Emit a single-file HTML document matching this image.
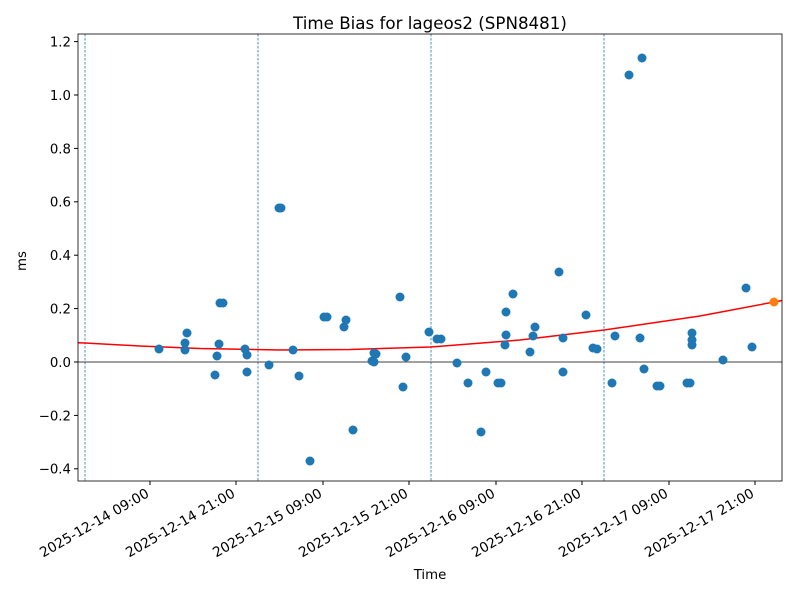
<!DOCTYPE html>
<html><head><meta charset="utf-8"><style>
body{margin:0;background:#fff;}
svg{display:block;font-family:"DejaVu Sans","Liberation Sans",sans-serif;}
</style></head><body>
<svg width="800" height="600" viewBox="0 0 800 600" xmlns="http://www.w3.org/2000/svg">
<rect width="800" height="600" fill="#fff"/>
<text x="430" y="29" font-size="16.7" text-anchor="middle" fill="#000">Time Bias for lageos2 (SPN8481)</text>
<g stroke="#1f77b4" stroke-width="0.8" stroke-dasharray="2.5,1.5">
<line x1="85" y1="34" x2="85" y2="481"/><line x1="258" y1="34" x2="258" y2="481"/>
<line x1="431" y1="34" x2="431" y2="481"/><line x1="604" y1="34" x2="604" y2="481"/>
</g>
<line x1="78" y1="362" x2="782" y2="362" stroke="#000" stroke-width="0.8"/>
<polyline fill="none" stroke="#ff0000" stroke-width="1.5" points="78,342.7 85,343 140,346 200,348.5 280,350 350,349.5 431,347 520,340 604,330 700,316 774,302 782,300.5"/>
<g fill="#1f77b4">
<circle cx="159" cy="349" r="4.5"/><circle cx="185" cy="343" r="4.5"/><circle cx="185" cy="350" r="4.5"/><circle cx="187" cy="333" r="4.5"/><circle cx="215" cy="375" r="4.5"/><circle cx="217" cy="356" r="4.5"/><circle cx="219" cy="344" r="4.5"/><circle cx="220" cy="303" r="4.5"/><circle cx="223" cy="303" r="4.5"/><circle cx="245" cy="349" r="4.5"/><circle cx="247" cy="355" r="4.5"/><circle cx="247" cy="372" r="4.5"/><circle cx="269" cy="365" r="4.5"/><circle cx="279" cy="208" r="4.5"/><circle cx="281" cy="208" r="4.5"/><circle cx="293" cy="350" r="4.5"/><circle cx="299" cy="376" r="4.5"/><circle cx="310" cy="461" r="4.5"/><circle cx="324" cy="317" r="4.5"/><circle cx="327" cy="317" r="4.5"/><circle cx="344" cy="327" r="4.5"/><circle cx="346" cy="320" r="4.5"/><circle cx="353" cy="430" r="4.5"/><circle cx="372" cy="361" r="4.5"/><circle cx="374" cy="362" r="4.5"/><circle cx="374" cy="353" r="4.5"/><circle cx="376" cy="354" r="4.5"/><circle cx="400" cy="297" r="4.5"/><circle cx="403" cy="387" r="4.5"/><circle cx="406" cy="357" r="4.5"/><circle cx="429" cy="332" r="4.5"/><circle cx="437" cy="339" r="4.5"/><circle cx="441" cy="339" r="4.5"/><circle cx="457" cy="363" r="4.5"/><circle cx="468" cy="383" r="4.5"/><circle cx="481" cy="432" r="4.5"/><circle cx="486" cy="372" r="4.5"/><circle cx="498" cy="383" r="4.5"/><circle cx="501" cy="383" r="4.5"/><circle cx="505" cy="345" r="4.5"/><circle cx="506" cy="335" r="4.5"/><circle cx="506" cy="312" r="4.5"/><circle cx="513" cy="294" r="4.5"/><circle cx="530" cy="352" r="4.5"/><circle cx="533" cy="336" r="4.5"/><circle cx="535" cy="327" r="4.5"/><circle cx="559" cy="272" r="4.5"/><circle cx="563" cy="372" r="4.5"/><circle cx="563" cy="338" r="4.5"/><circle cx="586" cy="315" r="4.5"/><circle cx="593" cy="348" r="4.5"/><circle cx="597" cy="349" r="4.5"/><circle cx="612" cy="383" r="4.5"/><circle cx="615" cy="336" r="4.5"/><circle cx="629" cy="75" r="4.5"/><circle cx="640" cy="338" r="4.5"/><circle cx="642" cy="58" r="4.5"/><circle cx="644" cy="369" r="4.5"/><circle cx="657" cy="386" r="4.5"/><circle cx="660" cy="386" r="4.5"/><circle cx="687" cy="383" r="4.5"/><circle cx="690" cy="383" r="4.5"/><circle cx="692" cy="333" r="4.5"/><circle cx="692" cy="340" r="4.5"/><circle cx="692" cy="345" r="4.5"/><circle cx="723" cy="360" r="4.5"/><circle cx="746" cy="288" r="4.5"/><circle cx="752" cy="347" r="4.5"/>
</g>
<circle cx="774" cy="302" r="4.5" fill="#ff7f0e"/>
<rect x="78" y="34" width="704" height="447" fill="none" stroke="#000" stroke-width="0.8"/>
<g font-size="13.3" fill="#000" text-anchor="end">
<line x1="74" y1="41.6" x2="78" y2="41.6" stroke="#000"/><text x="71" y="46.5">1.2</text>
<line x1="74" y1="95" x2="78" y2="95" stroke="#000"/><text x="71" y="100">1.0</text>
<line x1="74" y1="148.4" x2="78" y2="148.4" stroke="#000"/><text x="71" y="153.3">0.8</text>
<line x1="74" y1="201.8" x2="78" y2="201.8" stroke="#000"/><text x="71" y="206.7">0.6</text>
<line x1="74" y1="255.2" x2="78" y2="255.2" stroke="#000"/><text x="71" y="260">0.4</text>
<line x1="74" y1="308.6" x2="78" y2="308.6" stroke="#000"/><text x="71" y="313.5">0.2</text>
<line x1="74" y1="362" x2="78" y2="362" stroke="#000"/><text x="71" y="367">0.0</text>
<line x1="74" y1="415.4" x2="78" y2="415.4" stroke="#000"/><text x="71" y="420.3">−0.2</text>
<line x1="74" y1="468.8" x2="78" y2="468.8" stroke="#000"/><text x="71" y="473.7">−0.4</text>
</g>
<g stroke="#000">
<line x1="150" y1="481" x2="150" y2="485"/><line x1="236" y1="481" x2="236" y2="485"/><line x1="323" y1="481" x2="323" y2="485"/><line x1="409" y1="481" x2="409" y2="485"/><line x1="496" y1="481" x2="496" y2="485"/><line x1="582" y1="481" x2="582" y2="485"/><line x1="669" y1="481" x2="669" y2="485"/><line x1="755" y1="481" x2="755" y2="485"/>
</g>
<g font-size="13.7" fill="#000" text-anchor="end">
<text transform="translate(150,496) rotate(-30)">2025-12-14 09:00</text>
<text transform="translate(236,496) rotate(-30)">2025-12-14 21:00</text>
<text transform="translate(323,496) rotate(-30)">2025-12-15 09:00</text>
<text transform="translate(409,496) rotate(-30)">2025-12-15 21:00</text>
<text transform="translate(496,496) rotate(-30)">2025-12-16 09:00</text>
<text transform="translate(582,496) rotate(-30)">2025-12-16 21:00</text>
<text transform="translate(669,496) rotate(-30)">2025-12-17 09:00</text>
<text transform="translate(755,496) rotate(-30)">2025-12-17 21:00</text>
</g>
<text x="430" y="579" font-size="13.3" text-anchor="middle">Time</text>
<text transform="translate(26,261) rotate(-90)" font-size="13.3" text-anchor="middle">ms</text>
</svg>
</body></html>
